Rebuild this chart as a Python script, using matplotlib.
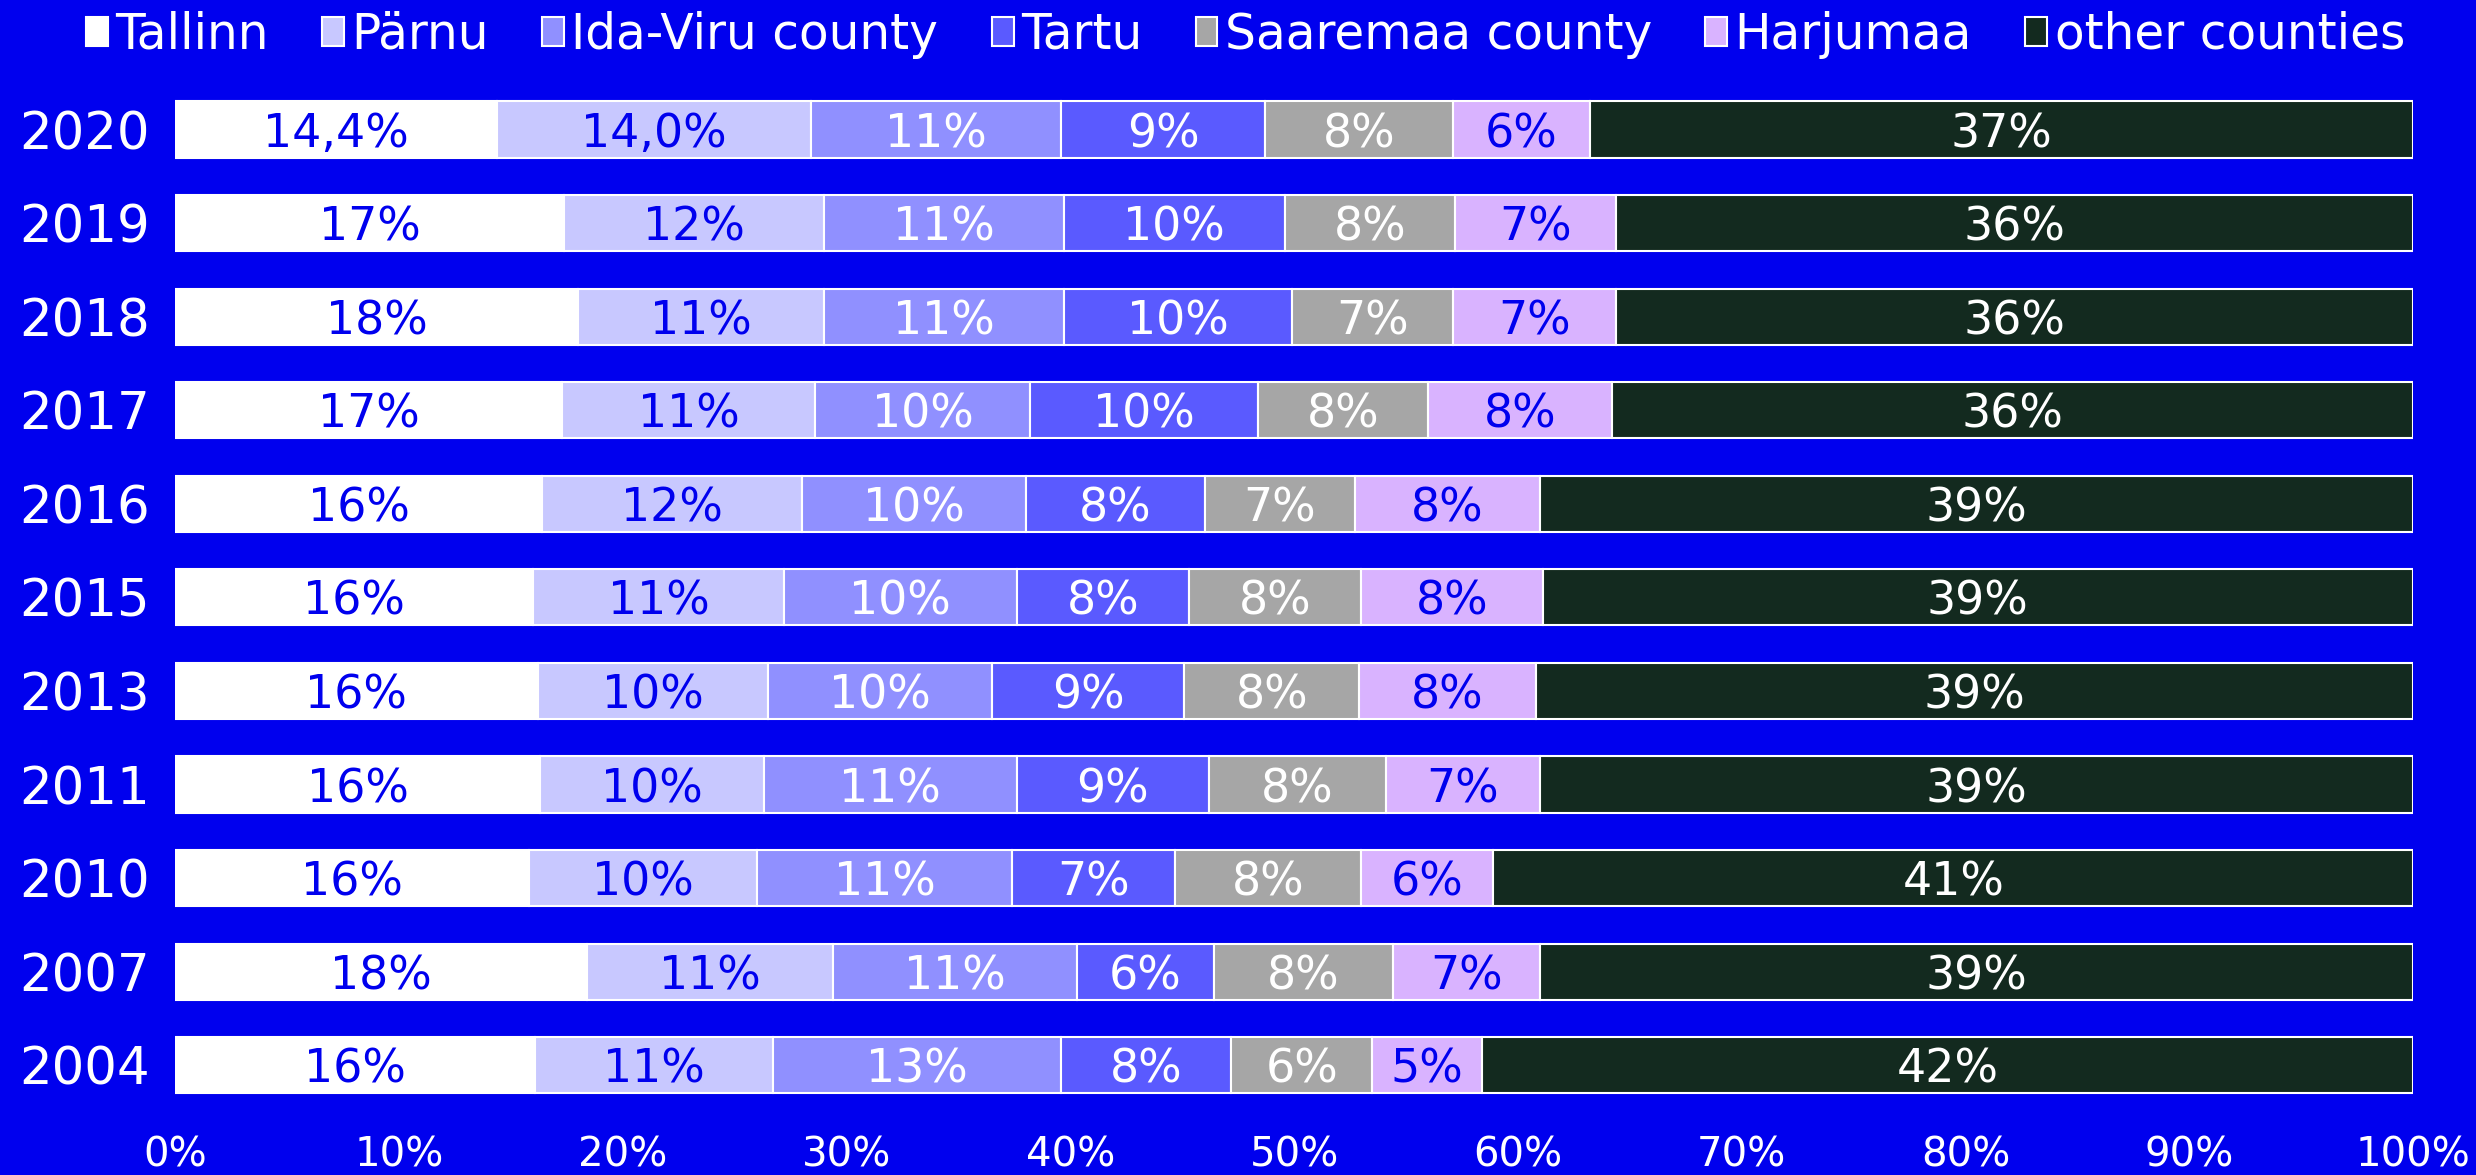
import matplotlib.pyplot as plt
import numpy as np

years = ["2020", "2019", "2018", "2017", "2016", "2015", "2013", "2011", "2010", "2007", "2004"]
regions = ["Tallinn", "Pärnu", "Ida-Viru county", "Tartu", "Saaremaa county", "Harjumaa", "other counties"]

# share (%) of each region per year, rows follow `years`
tallinn = [14.4, 17.4, 18.0, 17.3, 16.4, 16.0, 16.2, 16.3, 15.8, 18.4, 16.1]
parnu = [14.0, 11.6, 11.0, 11.3, 11.6, 11.2, 10.3, 10.0, 10.2, 11.0, 10.6]
ida_viru = [11.2, 10.7, 10.7, 9.6, 10.0, 10.4, 10.0, 11.3, 11.4, 10.9, 12.9]
tartu = [9.1, 9.9, 10.2, 10.2, 8.0, 7.7, 8.6, 8.6, 7.3, 6.1, 7.6]
saaremaa = [8.4, 7.6, 7.2, 7.6, 6.7, 7.7, 7.8, 7.9, 8.3, 8.0, 6.3]
harjumaa = [6.1, 7.2, 7.3, 8.2, 8.3, 8.1, 7.9, 6.9, 5.9, 6.6, 4.9]
other = [36.8, 35.6, 35.6, 35.8, 39.0, 38.9, 39.2, 39.0, 41.1, 39.0, 41.6]

series = [tallinn, parnu, ida_viru, tartu, saaremaa, harjumaa, other]
colors = ["#FFFFFF", "#C8C8FF", "#9090FF", "#5A5AFF", "#A6A6A6", "#D9B3FF", "#132A1F"]
text_colors = ["#0000EE", "#0000EE", "white", "white", "white", "#0000EE", "white"]
bg = "#0000EE"

fig = plt.figure(figsize=(24.76, 11.75), dpi=100, facecolor=bg)
ax = fig.add_axes([0.0707, 0.0536, 0.9039, 0.876])
ax.set_facecolor(bg)

y = np.arange(len(years))
left = np.zeros(len(years))
for name, vals, col, tcol in zip(regions, series, colors, text_colors):
    vals = np.array(vals)
    ax.barh(y, vals, left=left, height=0.6, color=col, edgecolor="white",
            linewidth=1.5, label=name)
    for i, v in enumerate(vals):
        if years[i] == "2020" and name in ("Tallinn", "Pärnu"):
            txt = f"{v:.1f}".replace(".", ",") + "%"
        else:
            txt = f"{int(v + 0.5)}%"
        ax.text(left[i] + v / 2, y[i], txt, ha="center", va="center_baseline",
                color=tcol, fontsize=33)
    left += vals

ax.set_xlim(0, 100)
ax.set_ylim(len(years) - 0.5, -0.5)
ax.set_yticks(y)
ax.set_yticklabels(years)
ax.set_xticks(np.arange(0, 101, 10))
ax.set_xticklabels([f"{t}%" for t in range(0, 101, 10)])
ax.tick_params(axis="y", length=0, pad=18, labelsize=37, colors="white")
ax.tick_params(axis="x", length=0, pad=17, labelsize=29, colors="white")
for s in ax.spines.values():
    s.set_visible(False)

leg = fig.legend(loc="upper center", bbox_to_anchor=(0.503, 1.028), ncol=7,
                 frameon=False, fontsize=35, handlelength=0.45, handleheight=0.55,
                 handletextpad=0.15, columnspacing=1.1, labelcolor="white")

plt.savefig("out.png", facecolor=bg)
